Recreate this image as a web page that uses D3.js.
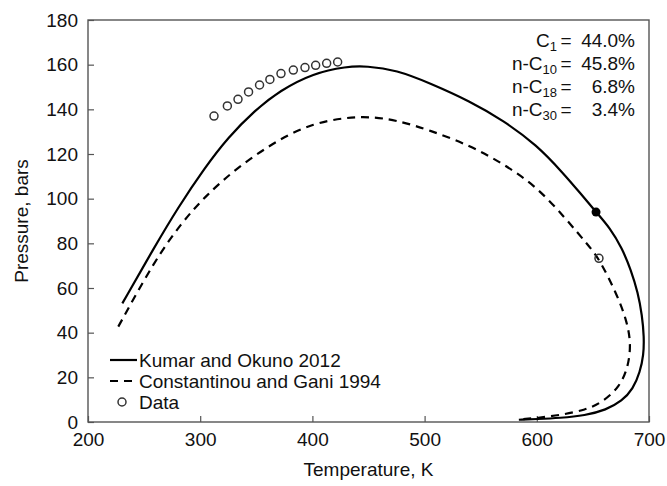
<!DOCTYPE html>
<html>
<head>
<meta charset="utf-8">
<script src="https://cdn.jsdelivr.net/npm/d3@7"></script>
<style>
  html, body { margin: 0; padding: 0; background: #fff; }
  svg { display: block; font-family: "Liberation Sans", Arial, Helvetica, sans-serif; }
</style>
</head>
<body>
<svg id="chart" width="667" height="486"></svg>
<script>
// Phase envelope of the C1 / n-C10 / n-C18 / n-C30 mixture: [temperature K, pressure bar]
const kumarOkuno = [
  [230.6, 53.1], [259.4, 78.5], [280.2, 96], [304, 113.8], [324.8, 127.4],
  [348.6, 139.5], [371, 148.4], [400.8, 156.2], [430.5, 159.2], [448, 159.4],
  [475, 157.6], [504.8, 151.7], [540.5, 143.6], [570.2, 135], [600, 124],
  [623.7, 111.3], [638.5, 102.6], [652.8, 94], [665.2, 86.9], [675.9, 77.9],
  [683.9, 68.1], [690.2, 57.8], [693.8, 47.9], [695.6, 38.1], [695.2, 30],
  [692, 22.4], [685.8, 14.8], [676, 9.4], [661.7, 5.4], [643, 2.9],
  [620.7, 1.8], [600, 1.3], [584, 1]
];
const constantinouGani = [
  [227, 42.7], [259.4, 72.3], [283, 88.9], [304, 100.9], [333.7, 114.3],
  [372, 127.2], [400.8, 133.7], [430.5, 136.4], [451.3, 136.7], [475, 135.2],
  [504.8, 130.6], [540.5, 123.8], [570.2, 115.6], [600, 105.4], [626.6, 90.6],
  [644.4, 80], [655.4, 73.3], [671, 57.6], [680, 45.7], [684, 35.4],
  [681.6, 24.8], [674, 15.8], [659, 9.1], [644, 5.4], [620, 3], [600, 1.8],
  [588, 1.3]
];
const measured = [
  [312.3, 137], [324.2, 141.5], [333.7, 144.5], [343.1, 147.8], [352.9, 150.9],
  [362.1, 153.4], [372, 156], [383, 157.6], [393.4, 158.7], [402.9, 159.7],
  [412.7, 160.6], [422.5, 161.2], [655.4, 73.3]
];
const criticalPoint = [[652.8, 94]];

const xTicks = [200, 300, 400, 500, 600, 700];
const yTicks = [0, 20, 40, 60, 80, 100, 120, 140, 160, 180];

const composition = [
  { pre: "C", sub: "1", value: "44.0%" },
  { pre: "n-C", sub: "10", value: "45.8%" },
  { pre: "n-C", sub: "18", value: "6.8%" },
  { pre: "n-C", sub: "30", value: "3.4%" }
];
const legendItems = [
  { label: "Kumar and Okuno 2012", kind: "solid" },
  { label: "Constantinou and Gani 1994", kind: "dashed" },
  { label: "Data", kind: "circle" }
];

const svg = d3.select("#chart");
const plotLeft = 88, plotRight = 649, plotTop = 20, plotBottom = 422;
const fontSize = 19;

const x = d3.scaleLinear().domain([200, 700]).range([plotLeft, plotRight]);
const y = d3.scaleLinear().domain([0, 180]).range([plotBottom, plotTop]);

// axes with inward ticks
const xAxis = svg.append("g").attr("transform", `translate(0,${plotBottom})`)
  .call(d3.axisBottom(x).tickValues(xTicks).tickSizeInner(-6).tickSizeOuter(0).tickPadding(12));
const yAxis = svg.append("g").attr("transform", `translate(${plotLeft},0)`)
  .call(d3.axisLeft(y).tickValues(yTicks).tickSizeInner(-6).tickSizeOuter(0).tickPadding(10));
[xAxis, yAxis].forEach(g => {
  g.select(".domain").remove();
  g.selectAll(".tick line").attr("stroke", "#555").attr("stroke-width", 1.2);
  g.selectAll(".tick text").attr("font-size", fontSize).attr("fill", "#111")
    .attr("font-family", "Liberation Sans, Arial, sans-serif");
});
xAxis.selectAll(".tick text").attr("dy", "0.72em").attr("y", 10);
yAxis.selectAll(".tick text").attr("x", -10);

// plot frame
svg.append("rect")
  .attr("x", plotLeft).attr("y", plotTop)
  .attr("width", plotRight - plotLeft).attr("height", plotBottom - plotTop)
  .attr("fill", "none").attr("stroke", "#555").attr("stroke-width", 1.4);

// smooth B-spline through the envelope points
const line = d3.line().x(d => x(d[0])).y(d => y(d[1])).curve(d3.curveBasis);

svg.append("path").datum(kumarOkuno)
  .attr("d", line).attr("fill", "none").attr("stroke", "#000").attr("stroke-width", 2.2);
svg.append("path").datum(constantinouGani)
  .attr("d", line).attr("fill", "none").attr("stroke", "#000").attr("stroke-width", 2.2)
  .attr("stroke-dasharray", "8,6");

svg.append("g").selectAll("circle").data(measured).join("circle")
  .attr("cx", d => x(d[0])).attr("cy", d => y(d[1])).attr("r", 4)
  .attr("fill", "none").attr("stroke", "#333").attr("stroke-width", 1.5);
svg.append("g").selectAll("circle").data(criticalPoint).join("circle")
  .attr("cx", d => x(d[0])).attr("cy", d => y(d[1])).attr("r", 4.5)
  .attr("fill", "#000");

// axis titles
svg.append("text").attr("x", (plotLeft + plotRight) / 2).attr("y", 469)
  .attr("text-anchor", "middle").attr("dominant-baseline", "central")
  .attr("font-size", fontSize).attr("fill", "#111").text("Temperature, K");
svg.append("text").attr("transform", `translate(21,${(plotTop + plotBottom) / 2}) rotate(-90)`)
  .attr("text-anchor", "middle").attr("dominant-baseline", "central")
  .attr("font-size", fontSize).attr("fill", "#111").text("Pressure, bars");

// composition block
const comp = svg.append("g");
composition.forEach((c, i) => {
  const cy = 40 + i * 23;
  const t = comp.append("text").attr("x", 557).attr("y", cy).attr("dy", "0.35em")
    .attr("text-anchor", "end").attr("font-size", fontSize).attr("fill", "#111");
  t.append("tspan").text(c.pre);
  t.append("tspan").attr("font-size", 13).attr("dy", "0.3em").text(c.sub);
  comp.append("text").attr("x", 566).attr("y", cy).attr("dy", "0.35em")
    .attr("text-anchor", "middle").attr("font-size", fontSize).attr("fill", "#111").text("=");
  comp.append("text").attr("x", 635).attr("y", cy).attr("dy", "0.35em")
    .attr("text-anchor", "end").attr("font-size", fontSize).attr("fill", "#111").text(c.value);
});

// legend
const legend = svg.append("g");
legendItems.forEach((item, i) => {
  const ly = 360 + i * 21;
  if (item.kind === "solid") {
    legend.append("line").attr("x1", 110).attr("x2", 137).attr("y1", ly).attr("y2", ly)
      .attr("stroke", "#000").attr("stroke-width", 2.2);
  } else if (item.kind === "dashed") {
    legend.append("line").attr("x1", 110).attr("x2", 137).attr("y1", ly).attr("y2", ly)
      .attr("stroke", "#000").attr("stroke-width", 2.2).attr("stroke-dasharray", "8,6");
  } else {
    legend.append("circle").attr("cx", 122).attr("cy", ly).attr("r", 4)
      .attr("fill", "none").attr("stroke", "#333").attr("stroke-width", 1.5);
  }
  legend.append("text").attr("x", 139).attr("y", ly).attr("dy", "0.35em")
    .attr("font-size", fontSize).attr("fill", "#111").text(item.label);
});
</script>
</body>
</html>
